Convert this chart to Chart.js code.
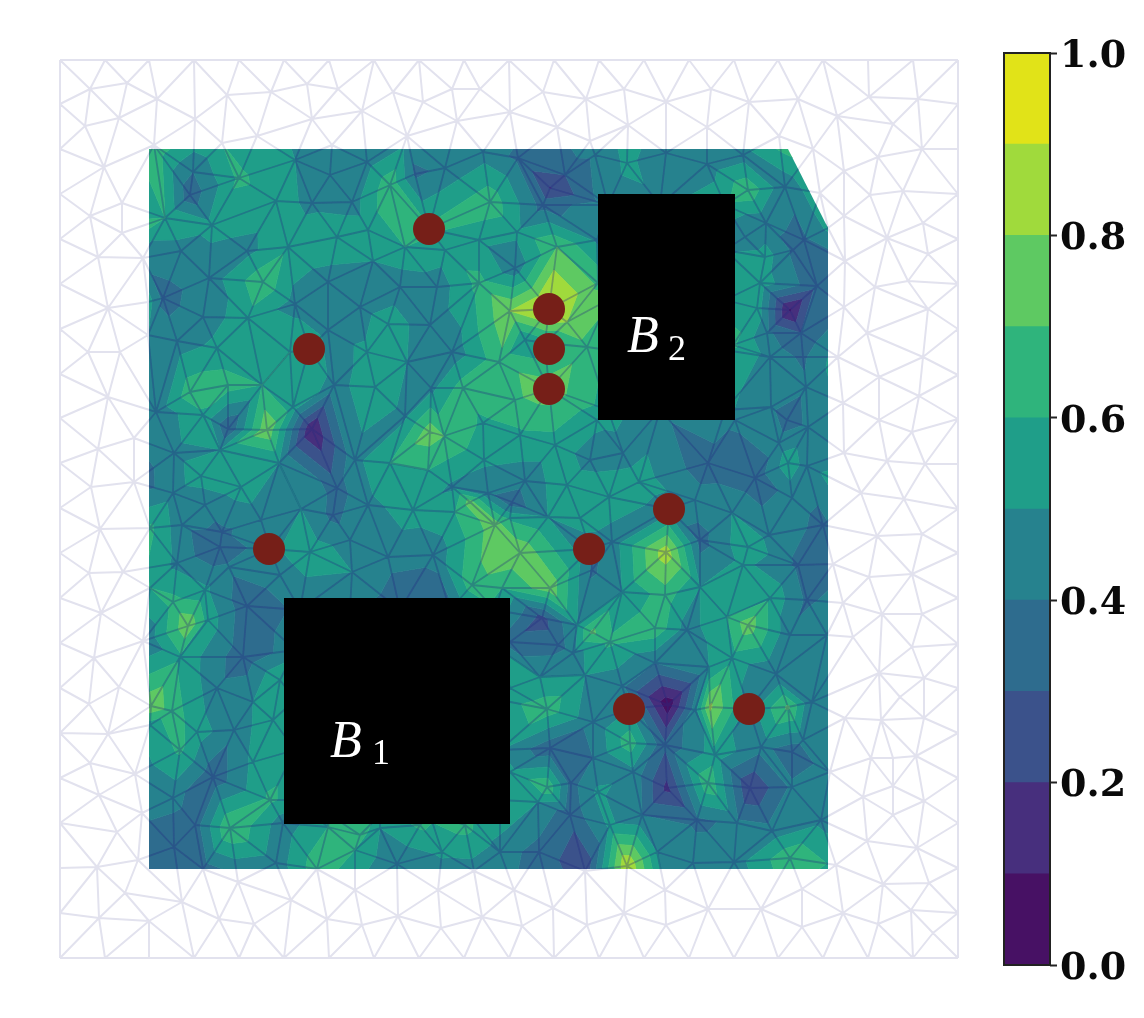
<!DOCTYPE html>
<html>
<head>
<meta charset="utf-8">
<title>mesh field</title>
<script src="https://cdn.jsdelivr.net/npm/chart.js@4"></script>
<style>
    html, body { margin: 0; padding: 0; background: #fff; }
    canvas { position: absolute; top: 0; }
    #chart-field { left: 0; }
    #chart-bar { left: 990px; }
</style>
</head>
<body>
<canvas id="chart-field" width="990" height="1018"></canvas>
<canvas id="chart-bar" width="154" height="1018"></canvas>
<script>
// mesh nodes on the outer square
const edgeStops = [60,105,149,194,239,284,329,374,419,464,509,554,599,644,689,734,778,823,868,913,958]
const leftStops = [104,149,194,239,284,329,374,418,463,508,553,598,643,688,733,778,823,868,913]
const rightStops = [104,149,194,239,284,329,375,419,464,509,553,598,644,688,733,778,823,868,913]

// mesh nodes far from the coloured part, no value read for these
const outerX = [90,127,157,119,85,227,271,307,338,393,423,452,480,543,586,624,711,798,869,918,
    893,922,878,870,903,923,887,928,908,875,928,867,923,879,919,879,912,887,925,904,
    877,922,869,912,882,922,912,879,924,900,881,924,871,916,863,893,924,893,867,917,
    883,929,878,911,933,843,88,90,91,89,101,94,89,108,90,99,117,97,99,125,
    149,182,219,254,327,362,398,441,482,522,587,666,802,
    893]
const outerY = [89,83,99,118,126,95,92,84,89,92,102,89,89,92,99,89,89,99,97,99,
    124,149,157,195,191,223,238,254,281,287,309,333,357,377,396,420,432,461,464,499,
    536,534,577,574,614,614,647,673,678,697,720,718,758,756,797,786,801,815,841,848,
    884,883,924,910,933,913,352,216,487,573,613,658,704,734,763,795,832,867,918,893,
    921,902,919,924,919,925,916,928,917,926,925,925,927,
    758]

// mesh nodes with a value
const nodeX = [154,195,222,257,312,332,362,407,457,510,
    557,590,628,666,707,749,779,813,837,844,
    104,122,122,98,143,108,120,148,148,108,
    193,239,295,330,367,415,445,483,518,565,
    595,627,666,707,743,785,820,390,550,748,
    276,312,352,490,543,165,212,429,368,479,
    517,181,247,288,337,405,445,557,597,745,
    766,804,828,844,373,515,209,263,328,400,
    437,479,598,765,793,845,760,817,163,295,
    360,510,549,757,790,844,203,248,388,430,
    567,328,767,801,177,217,290,309,367,452,
    525,545,587,733,770,803,838,407,499,156,
    190,228,262,334,375,431,463,549,515,806,
    203,293,771,843,405,787,808,228,267,312,
    430,483,444,520,555,597,735,779,98,134,
    174,220,279,355,390,484,590,623,708,788,
    807,844,428,201,755,134,241,337,452,488,
    525,567,639,173,470,512,609,695,792,861,
    205,301,368,413,669,732,333,510,548,580,
    261,823,150,100,182,222,769,350,612,700,
    270,220,590,748,310,388,433,520,666,743,
    177,229,798,833,592,123,352,280,472,550,
    700,205,150,502,622,665,770,173,807,843,
    247,727,208,188,542,748,577,655,592,687,
    790,827,853,143,510,558,610,573,180,243,
    655,732,709,776,585,540,510,119,622,
    217,812,253,280,151,668,172,695,710,788,
    547,629,749,593,150,630,845,197,234,273,
    803,665,180,761,550,715,792,593,253,830,
    135,633,510,213,708,571,547,750,667,598,
    173,270,792,538,142,570,642,697,821,737,
    610,283,195,230,328,380,420,465,772,360,
    174,442,500,539,657,355,790,138,276,397,
    693,734,627,836,203,317,474,585,238,
    355,438,514,665,802,291,553,708,761,624,
    190,495,455,
    300,350,400,450,495,295,295,295,295,500,
    500,500,500,330,380,430,470,400,
    608,608,608,608,608,725,725,725,725,725,
    660,660,665]
const nodeY = [145,119,143,136,119,145,111,136,121,112,
    127,141,125,102,127,102,136,149,116,171,
    167,203,233,257,258,308,352,302,335,397,
    172,178,160,175,162,174,168,152,158,175,
    155,163,153,164,155,187,193,185,188,190,
    201,203,202,202,205,218,225,229,230,240,
    232,251,251,247,237,247,250,247,240,237,
    223,240,228,216,261,268,278,282,282,287,
    287,283,283,257,250,261,283,286,298,304,
    307,311,309,308,310,307,317,318,324,325,
    322,330,333,333,341,348,352,349,352,352,
    340,343,347,345,357,357,357,362,362,412,
    392,385,385,385,387,388,388,389,400,387,
    415,407,407,403,416,420,427,429,430,429,
    432,423,436,435,445,420,420,443,449,438,
    453,450,463,460,463,460,460,453,463,463,
    466,453,470,476,478,482,487,488,487,493,
    481,485,482,493,502,502,497,500,498,493,
    505,509,505,510,509,513,515,518,517,518,
    520,525,528,529,525,532,535,540,542,540,
    549,547,549,547,552,557,555,553,552,565,
    563,567,565,564,570,572,572,575,585,588,
    587,590,588,588,592,595,598,602,600,603,
    606,617,620,626,618,625,625,628,632,630,
    635,635,637,641,642,645,642,653,657,657,
    663,658,667,674,675,677,688,687,686,
    688,702,702,680,706,705,711,710,707,707,
    709,709,709,722,725,743,718,732,730,720,
    740,745,750,747,748,755,752,758,762,772,
    774,772,772,777,783,783,787,788,788,792,
    798,800,787,802,813,815,815,820,820,823,
    825,823,825,828,827,828,825,825,831,835,
    847,852,852,852,852,850,858,860,863,864,
    863,862,866,865,869,869,871,871,882,
    890,890,890,890,889,900,908,909,909,913,
    195,525,512,
    610,610,610,610,610,650,700,750,800,650,
    700,750,800,815,815,815,815,710,
    205,250,300,350,410,205,250,300,350,410,
    205,410,300]
const nodeValue = [.68,.66,.6,.52,.48,.42,.42,.45,.5,.45,
    .4,.5,.55,.5,.48,.6,.68,.7,.7,.6,
    .45,.45,.7,.5,.42,.55,.45,.55,.5,.48,
    .4,.62,.5,.45,.46,.38,.42,.45,.38,.3,
    .42,.52,.44,.44,.45,.42,.58,.67,.19,.68,
    .55,.47,.45,.67,.36,.6,.53,.62,.55,.52,
    .52,.45,.47,.58,.58,.6,.55,.7,.48,.4,
    .42,.38,.52,.55,.5,.43,.44,.68,.45,.42,
    .44,.63,.68,.55,.38,.38,.56,.33,.37,.46,
    .44,.8,.97,.56,.08,.38,.44,.56,.58,.42,
    .8,.46,.42,.3,.44,.53,.6,.58,.52,.43,
    .5,.55,.66,.62,.46,.38,.55,.5,.66,.43,
    .66,.65,.6,.47,.55,.47,.65,.76,.68,.42,
    .58,.55,.42,.52,.48,.34,.42,.3,.78,.1,
    .76,.58,.7,.58,.55,.52,.42,.45,.4,.4,
    .47,.5,.5,.47,.6,.52,.46,.45,.33,.56,
    .46,.45,.6,.55,.33,.33,.55,.36,.48,.42,
    .44,.56,.55,.46,.74,.33,.58,.45,.44,.62,
    .43,.5,.47,.55,.45,.5,.37,.58,.5,.57,
    .45,.37,.62,.58,.43,.38,.47,.45,.44,.36,
    .48,.3,.42,.58,.56,.43,.42,.78,.86,.53,
    .47,.42,.38,.36,.38,.7,.5,.45,.66,.76,
    .5,.52,.6,.6,.5,.65,.58,.63,.38,.45,
    .33,.6,.56,.78,.26,.76,.5,.68,.72,.45,
    .42,.5,.55,.4,.33,.35,.62,.45,.58,.33,
    .4,.56,.5,.4,.5,.5,.5,.55,.42,
    .43,.4,.5,.6,.78,.03,.65,.45,.82,.72,
    .66,.5,.45,.42,.55,.66,.5,.55,.43,.58,
    .43,.32,.62,.44,.33,.55,.33,.4,.52,.45,
    .42,.47,.52,.33,.68,.36,.68,.2,.17,.52,
    .43,.62,.42,.5,.42,.33,.4,.38,.47,.42,
    .52,.44,.35,.7,.6,.5,.62,.64,.44,.66,
    .33,.52,.45,.36,.5,.6,.68,.35,.44,.4,
    .45,.45,.9,.58,.35,.66,.45,.22,.35,
    .5,.4,.4,.5,.58,.45,.4,.45,.5,.6,
    .33,.76,.6,
    .42,.42,.33,.36,.58,.45,.55,.55,.55,.5,
    .55,.5,.6,.6,.55,.62,.62,.5,
    .45,.55,.72,.66,.55,.58,.48,.58,.62,.52,
    .48,.42,.55]

// outline of the coloured part
const regionX = [149,788,828,828,149]
const regionY = [149,149,228,869,869]

// colour levels and their colours
const levels = [0,.1,.2,.3,.4,.5,.6,.7,.8,.9,1]
const bandColors = ["#471164","#472f7d","#3b528b","#2e6c8e","#26828e","#1f9e89","#2fb47c","#5ec962","#a0da3c","#e1e318"]
const barTicks = [0,.2,.4,.6,.8,1]

// blocks and sensors
const blockLeft = [284,598]
const blockRight = [510,735]
const blockTop = [598,194]
const blockBottom = [824,420]
const blockNames = ["B","B"]
const blockSubs = ["1","2"]
const nameX = [330,627]
const nameY = [757,352]
const subX = [372,668]
const subY = [764,360]
const sensorX = [429,549,549,549,309,269,589,669,629,749]
const sensorY = [229,309,349,389,349,549,549,509,709,709]

const meshX = [], meshY = [], meshV = []
const addNode = (x, y, v) => {
    meshX.push(x)
    meshY.push(y)
    meshV.push(v)
}
edgeStops.forEach(x => {
    addNode(x, 60, .45)
    addNode(x, 958, .45)
})
leftStops.forEach(y => addNode(60, y, .45))
rightStops.forEach(y => addNode(958, y, .45))
outerX.forEach((x, i) => addNode(x, outerY[i], .45))
nodeX.forEach((x, i) => addNode(x, nodeY[i], nodeValue[i]))

// plain Bowyer-Watson, the picture's mesh is close to Delaunay
const triangulate = (xs, ys) => {
    const n = xs.length
    const px = [...xs, -1e5, 1e5, 480]
    const py = [...ys, -1e5, -1e5, 1e5]
    let tris = [[n, n + 1, n + 2]]
    const inCircle = (t, x, y) => {
        const ax = px[t[0]] - x, ay = py[t[0]] - y
        const bx = px[t[1]] - x, by = py[t[1]] - y
        const cx = px[t[2]] - x, cy = py[t[2]] - y
        const det = (ax * ax + ay * ay) * (bx * cy - cx * by)
            - (bx * bx + by * by) * (ax * cy - cx * ay)
            + (cx * cx + cy * cy) * (ax * by - bx * ay)
        const area = (px[t[1]] - px[t[0]]) * (py[t[2]] - py[t[0]]) - (px[t[2]] - px[t[0]]) * (py[t[1]] - py[t[0]])
        return area > 0 ? det > 0 : det < 0
    }
    for (let i = 0; i < n; i++) {
        const bad = [], keep = []
        for (const t of tris) (inCircle(t, px[i], py[i]) ? bad : keep).push(t)
        const edges = new Map()
        for (const t of bad) {
            for (const [a, b] of [[t[0], t[1]], [t[1], t[2]], [t[2], t[0]]]) {
                const k = a < b ? `${a}_${b}` : `${b}_${a}`
                if (edges.has(k)) edges.set(k, null)
                else edges.set(k, [a, b])
            }
        }
        for (const e of edges.values()) {
            if (e) keep.push([e[0], e[1], i])
        }
        tris = keep
    }
    return tris.filter(t => t.every(v => v < n))
}

const triangles = triangulate(meshX, meshY)

const edgeSeen = new Set()
const edgePoints = []
for (const t of triangles) {
    for (const [a, b] of [[t[0], t[1]], [t[1], t[2]], [t[2], t[0]]]) {
        const k = a < b ? `${a}_${b}` : `${b}_${a}`
        if (edgeSeen.has(k)) continue
        edgeSeen.add(k)
        edgePoints.push({x: meshX[a], y: meshY[a]}, {x: meshX[b], y: meshY[b]}, {x: NaN, y: NaN})
    }
}

const cutPolygon = (poly, level, above) => {
    const out = []
    for (let i = 0; i < poly.length; i++) {
        const p = poly[i], q = poly[(i + 1) % poly.length]
        const pIn = above ? p.v >= level : p.v <= level
        const qIn = above ? q.v >= level : q.v <= level
        if (pIn) out.push(p)
        if (pIn != qIn) {
            const s = (level - p.v) / (q.v - p.v)
            out.push({x: p.x + s * (q.x - p.x), y: p.y + s * (q.y - p.y), v: level})
        }
    }
    return out
}

const regionPath = (chart, ctx) => {
    const {x, y} = chart.scales
    ctx.beginPath()
    regionX.forEach((rx, i) => ctx.lineTo(x.getPixelForValue(rx), y.getPixelForValue(regionY[i])))
    ctx.closePath()
}

const drawBands = chart => {
    const ctx = chart.ctx
    const {x, y} = chart.scales
    ctx.save()
    regionPath(chart, ctx)
    ctx.clip()
    ctx.lineWidth = .7
    ctx.lineJoin = "round"
    bandColors.forEach((color, b) => {
        ctx.beginPath()
        for (const t of triangles) {
            let poly = t.map(i => ({x: meshX[i], y: meshY[i], v: meshV[i]}))
            poly = cutPolygon(poly, levels[b], true)
            if (poly.length) poly = cutPolygon(poly, levels[b + 1], false)
            if (poly.length < 3) continue
            poly.forEach((p, i) => {
                const px = x.getPixelForValue(p.x), py = y.getPixelForValue(p.y)
                if (i == 0) ctx.moveTo(px, py)
                else ctx.lineTo(px, py)
            })
            ctx.closePath()
        }
        ctx.fillStyle = color
        ctx.strokeStyle = color
        ctx.fill()
        ctx.stroke()
    })
    ctx.restore()
}

const fieldPlugin = {
    id: "field",
    beforeDatasetDraw(chart, args) {
        if (chart.data.datasets[args.index].label == "mesh dark") {
            chart.ctx.save()
            regionPath(chart, chart.ctx)
            chart.ctx.clip()
        }
    },
    afterDatasetDraw(chart, args) {
        const label = chart.data.datasets[args.index].label
        if (label == "mesh") drawBands(chart)
        if (label == "mesh dark") chart.ctx.restore()
    },
    afterDatasetsDraw(chart) {
        const ctx = chart.ctx
        const {x, y} = chart.scales
        ctx.save()
        ctx.fillStyle = "#fff"
        ctx.textBaseline = "alphabetic"
        blockNames.forEach((name, i) => {
            ctx.font = 'italic 52px "Liberation Serif"'
            ctx.fillText(name, x.getPixelForValue(nameX[i]), y.getPixelForValue(nameY[i]))
            ctx.font = '36px "Liberation Serif"'
            ctx.fillText(blockSubs[i], x.getPixelForValue(subX[i]), y.getPixelForValue(subY[i]))
        })
        ctx.restore()
    }
}

new Chart("chart-field", {
    type: "scatter",
    plugins: [fieldPlugin],
    data: {
        datasets: [
            {
                label: "sensors",
                order: 0,
                data: sensorX.map((x, i) => ({x, y: sensorY[i]})),
                pointRadius: 16,
                pointBorderWidth: 0,
                backgroundColor: "#761f18",
                clip: false
            },
            ...blockLeft.map((left, i) => ({
                label: `block ${i + 1}`,
                type: "line",
                order: 1,
                data: [{x: left, y: blockTop[i]}, {x: blockRight[i], y: blockTop[i]}],
                pointRadius: 0,
                borderWidth: 0,
                backgroundColor: "#000",
                fill: {target: {value: blockBottom[i]}}
            })),
            {
                label: "mesh dark",
                type: "line",
                order: 2,
                data: edgePoints,
                pointRadius: 0,
                borderWidth: 1.8,
                borderColor: "rgba(35,45,130,.33)",
                spanGaps: false
            },
            {
                label: "mesh",
                type: "line",
                order: 3,
                data: edgePoints,
                pointRadius: 0,
                borderWidth: 2,
                borderColor: "#e2e2ee",
                spanGaps: false,
                clip: false
            }
        ]
    },
    options: {
        responsive: false,
        animation: false,
        layout: {padding: {left: 60, right: 32, top: 60, bottom: 60}},
        plugins: {legend: {display: false}, tooltip: {enabled: false}},
        scales: {
            x: {type: "linear", display: false, min: 60, max: 958},
            y: {type: "linear", display: false, min: 60, max: 958, reverse: true}
        }
    }
})

const barOutline = {
    id: "barOutline",
    afterDraw(chart) {
        const {left, top, width, height} = chart.chartArea
        chart.ctx.save()
        chart.ctx.strokeStyle = "#222"
        chart.ctx.lineWidth = 2
        chart.ctx.strokeRect(left, top, width, height)
        chart.ctx.restore()
    }
}

new Chart("chart-bar", {
    type: "bar",
    plugins: [barOutline],
    data: {
        labels: [""],
        datasets: bandColors.map((color, i) => ({
            data: [[levels[i], levels[i + 1]]],
            backgroundColor: color,
            barPercentage: 1,
            categoryPercentage: 1,
            grouped: false
        }))
    },
    options: {
        responsive: false,
        animation: false,
        layout: {padding: {left: 14, right: 0, top: 53, bottom: 53}},
        plugins: {legend: {display: false}, tooltip: {enabled: false}},
        scales: {
            x: {display: false},
            y: {
                position: "right",
                min: 0,
                max: 1,
                afterFit: s => { s.width = 94 },
                afterBuildTicks: s => { s.ticks = barTicks.map(value => ({value})) },
                grid: {drawOnChartArea: false, tickLength: 7, tickWidth: 2, tickColor: "#222"},
                border: {display: false},
                ticks: {
                    padding: 3,
                    labelOffset: 4,
                    color: "#0a0a0a",
                    font: {family: "DejaVu Serif", weight: "bold", size: 38},
                    callback: v => v.toFixed(1)
                }
            }
        }
    }
})
</script>
</body>
</html>
